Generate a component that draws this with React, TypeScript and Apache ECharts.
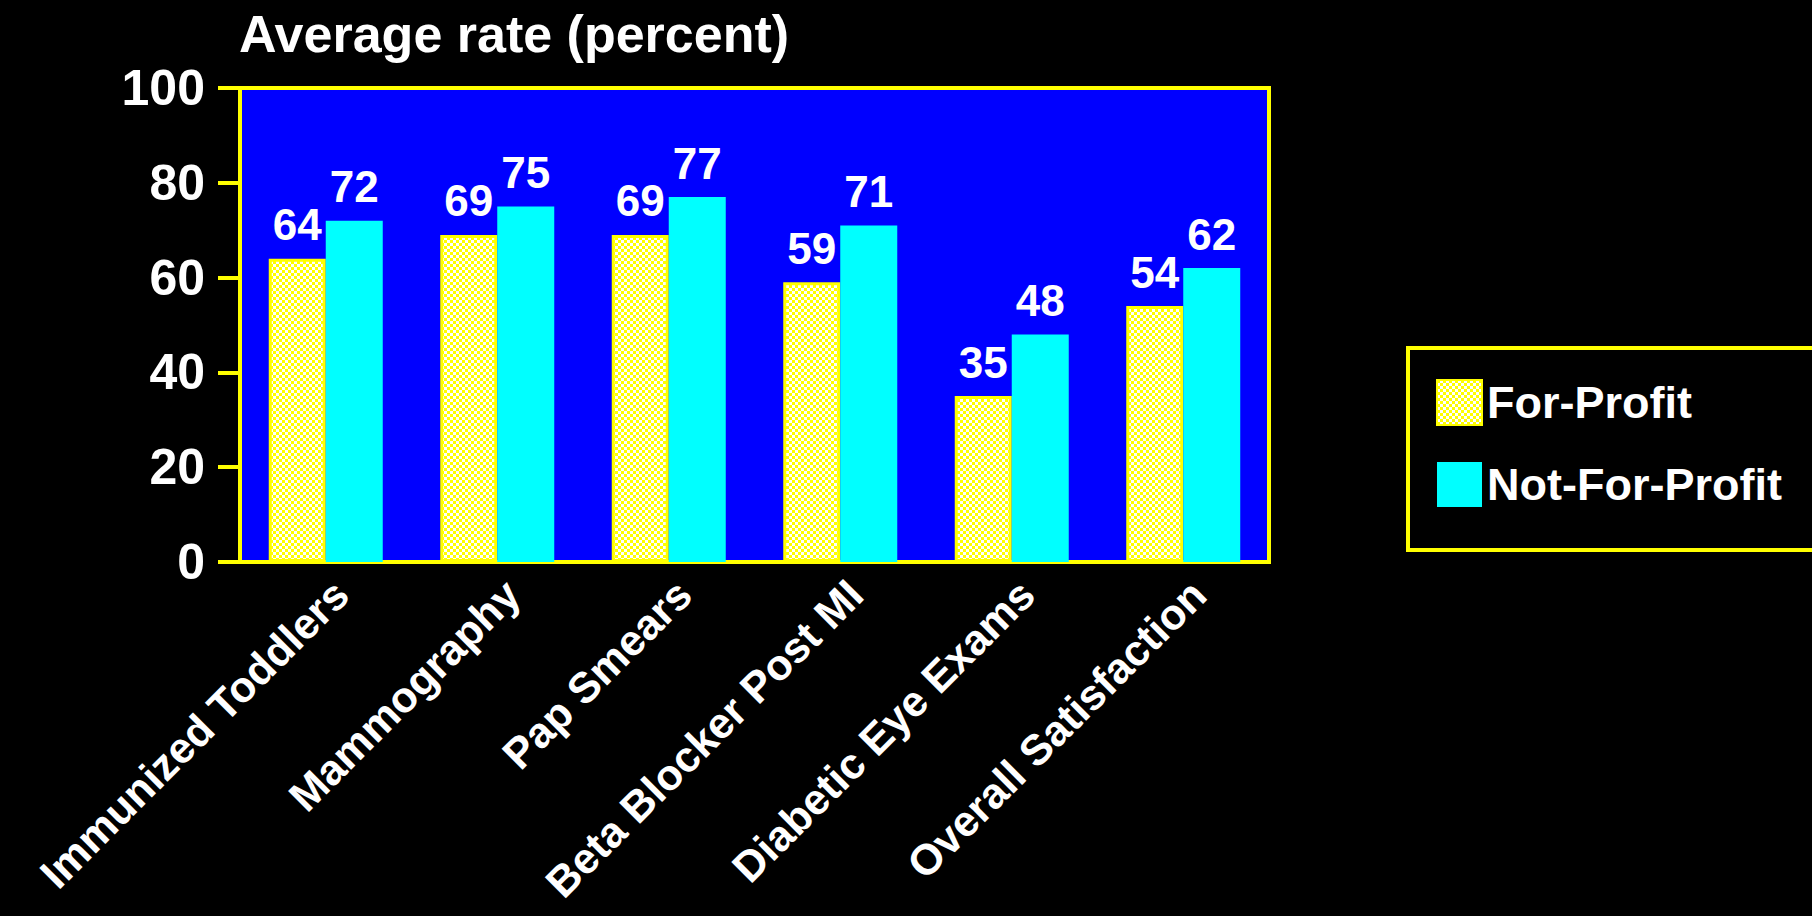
import React, { useEffect, useRef } from "react";
import * as echarts from "echarts";

const categories = [
  "Immunized Toddlers",
  "Mammography",
  "Pap Smears",
  "Beta Blocker Post MI",
  "Diabetic Eye Exams",
  "Overall Satisfaction",
];
const forProfit = [64, 69, 69, 59, 35, 54];
const notForProfit = [72, 75, 77, 71, 48, 62];
const seriesNames = ["For-Profit", "Not-For-Profit"];
const titleText = "Average rate (percent)";

const FONT = "Liberation Sans";

function makeChecker() {
  const c = document.createElement("canvas");
  c.width = 6;
  c.height = 6;
  const ctx = c.getContext("2d")!;
  ctx.fillStyle = "#FFFFFF";
  ctx.fillRect(0, 0, 6, 6);
  ctx.fillStyle = "#FFFF00";
  ctx.fillRect(0, 0, 3, 3);
  ctx.fillRect(3, 3, 3, 3);
  return c;
}

export default function App() {
  const ref = useRef<HTMLDivElement>(null);
  useEffect(() => {
    const chart = echarts.init(ref.current!, null, { renderer: "svg" });
    const checker = makeChecker();
    const yellowPattern: any = {
      image: checker,
      repeat: "repeat",
      imageWidth: 6,
      imageHeight: 6,
    };
    chart.setOption({
      animation: false,
      backgroundColor: "#000000",
      title: {
        text: titleText,
        left: 234,
        top: 3,
        padding: 5,
        textStyle: { color: "#FFFFFF", fontSize: 52, fontWeight: "bold", fontFamily: FONT },
      },
      legend: {
        orient: "vertical",
        left: 1436,
        top: 379,
        padding: 0,
        itemWidth: 45,
        itemHeight: 45,
        itemGap: 36,
        icon: "rect",
        textStyle: { color: "#FFFFFF", fontSize: 45, fontWeight: "bold", fontFamily: FONT },
        data: seriesNames,
      },
      graphic: [
        {
          type: "rect",
          shape: { x: 1408, y: 348, width: 420, height: 202 },
          style: { fill: "transparent", stroke: "#FFFF00", lineWidth: 4 },
          z: -1,
        },
      ],
      grid: {
        left: 240,
        right: 543,
        top: 88,
        bottom: 354,
        outerBoundsMode: "none",
        containLabel: false,
        show: true,
        backgroundColor: "#0000FF",
        borderColor: "#FFFF00",
        borderWidth: 4,
      },
      xAxis: {
        type: "category",
        data: categories,
        axisLine: { show: true, lineStyle: { color: "#FFFF00", width: 4 } },
        axisTick: { show: false },
        axisLabel: {
          interval: 0,
          rotate: 45,
          margin: 10,
          verticalAlign: "top",
          color: "#FFFFFF",
          fontSize: 43,
          fontWeight: "bold",
          fontFamily: FONT,
        },
      },
      yAxis: {
        type: "value",
        min: 0,
        max: 100,
        interval: 20,
        splitLine: { show: false },
        axisLine: { show: true, lineStyle: { color: "#FFFF00", width: 4 } },
        axisTick: { show: true, length: 22, lineStyle: { color: "#FFFF00", width: 4 } },
        axisLabel: {
          color: "#FFFFFF",
          fontSize: 50,
          fontWeight: "bold",
          fontFamily: FONT,
          margin: 35,
        },
      },
      series: [
        {
          name: seriesNames[0],
          type: "bar",
          data: forProfit,
          barWidth: 57,
          barGap: "0%",
          itemStyle: { color: yellowPattern, borderColor: "#FFFF00", borderWidth: 3 },
          label: {
            show: true,
            position: "top",
            distance: 12,
            color: "#FFFFFF",
            fontSize: 44,
            fontWeight: "bold",
            fontFamily: FONT,
          },
        },
        {
          name: seriesNames[1],
          type: "bar",
          data: notForProfit,
          barWidth: 57,
          barGap: "0%",
          itemStyle: { color: "#00FFFF" },
          label: {
            show: true,
            position: "top",
            distance: 12,
            color: "#FFFFFF",
            fontSize: 44,
            fontWeight: "bold",
            fontFamily: FONT,
          },
        },
      ],
    });
    return () => chart.dispose();
  }, []);
  return (
    <div
      style={{ position: "fixed", left: 0, top: 0, width: 1812, height: 916, background: "#000" }}
    >
      <div ref={ref} style={{ width: 1812, height: 916 }} />
    </div>
  );
}
